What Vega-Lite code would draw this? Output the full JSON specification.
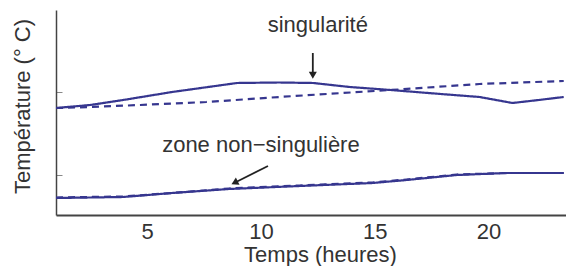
{
  "$schema": "https://vega.github.io/schema/vega-lite/v6.json",
  "width": 510,
  "height": 205,
  "autosize": {"type": "none"},
  "padding": {"left": 56, "top": 10, "right": 0, "bottom": 51},
  "background": "white",
  "config": {
    "view": {"stroke": null},
    "font": "Liberation Sans",
    "axis": {"grid": false, "titleFontWeight": "normal", "titleColor": "#333333", "labelColor": "#333333", "titleFont": "Liberation Sans", "labelFont": "Liberation Sans"}
  },
  "datasets": {
    "courbes": [
      {"t": 1.0, "temp": 107, "serie": "sing_obs", "trace": "observé"},
      {"t": 2.5, "temp": 110, "serie": "sing_obs", "trace": "observé"},
      {"t": 3.95, "temp": 115, "serie": "sing_obs", "trace": "observé"},
      {"t": 6.1, "temp": 123, "serie": "sing_obs", "trace": "observé"},
      {"t": 8.95, "temp": 132, "serie": "sing_obs", "trace": "observé"},
      {"t": 10.8, "temp": 132.5, "serie": "sing_obs", "trace": "observé"},
      {"t": 12.3, "temp": 132, "serie": "sing_obs", "trace": "observé"},
      {"t": 13.9, "temp": 128, "serie": "sing_obs", "trace": "observé"},
      {"t": 15.7, "temp": 125, "serie": "sing_obs", "trace": "observé"},
      {"t": 17.9, "temp": 121, "serie": "sing_obs", "trace": "observé"},
      {"t": 19.6, "temp": 118, "serie": "sing_obs", "trace": "observé"},
      {"t": 21.05, "temp": 112, "serie": "sing_obs", "trace": "observé"},
      {"t": 22.2, "temp": 115, "serie": "sing_obs", "trace": "observé"},
      {"t": 23.3, "temp": 118, "serie": "sing_obs", "trace": "observé"},
      {"t": 1.0, "temp": 107, "serie": "sing_mod", "trace": "modèle"},
      {"t": 2.5, "temp": 108, "serie": "sing_mod", "trace": "modèle"},
      {"t": 4.7, "temp": 110, "serie": "sing_mod", "trace": "modèle"},
      {"t": 7.6, "temp": 113, "serie": "sing_mod", "trace": "modèle"},
      {"t": 10.8, "temp": 118, "serie": "sing_mod", "trace": "modèle"},
      {"t": 15.7, "temp": 125, "serie": "sing_mod", "trace": "modèle"},
      {"t": 19.6, "temp": 131, "serie": "sing_mod", "trace": "modèle"},
      {"t": 23.3, "temp": 134, "serie": "sing_mod", "trace": "modèle"},
      {"t": 1.0, "temp": 17, "serie": "ns_obs", "trace": "observé"},
      {"t": 3.95, "temp": 18, "serie": "ns_obs", "trace": "observé"},
      {"t": 6.1, "temp": 22, "serie": "ns_obs", "trace": "observé"},
      {"t": 8.6, "temp": 26, "serie": "ns_obs", "trace": "observé"},
      {"t": 11.7, "temp": 29, "serie": "ns_obs", "trace": "observé"},
      {"t": 14.9, "temp": 32, "serie": "ns_obs", "trace": "observé"},
      {"t": 16.4, "temp": 35, "serie": "ns_obs", "trace": "observé"},
      {"t": 18.6, "temp": 40, "serie": "ns_obs", "trace": "observé"},
      {"t": 20.8, "temp": 42, "serie": "ns_obs", "trace": "observé"},
      {"t": 23.3, "temp": 42, "serie": "ns_obs", "trace": "observé"},
      {"t": 1.0, "temp": 17.5, "serie": "ns_mod", "trace": "modèle"},
      {"t": 3.95, "temp": 18.5, "serie": "ns_mod", "trace": "modèle"},
      {"t": 6.1, "temp": 22, "serie": "ns_mod", "trace": "modèle"},
      {"t": 8.6, "temp": 26.5, "serie": "ns_mod", "trace": "modèle"},
      {"t": 11.7, "temp": 29.5, "serie": "ns_mod", "trace": "modèle"},
      {"t": 14.9, "temp": 32.5, "serie": "ns_mod", "trace": "modèle"},
      {"t": 16.4, "temp": 35.5, "serie": "ns_mod", "trace": "modèle"},
      {"t": 18.6, "temp": 40.5, "serie": "ns_mod", "trace": "modèle"},
      {"t": 20.8, "temp": 42, "serie": "ns_mod", "trace": "modèle"},
      {"t": 23.3, "temp": 42, "serie": "ns_mod", "trace": "modèle"}
    ],
    "etiquettes": [
      {"t": 12.5, "temp": 183, "texte": "singularité"},
      {"t": 10.0, "temp": 63, "texte": "zone non−singulière"}
    ],
    "fleche_v": [
      {"t": 12.28, "temp": 162, "t2": 12.28, "temp2": 141}
    ],
    "fleche_d": [
      {"t": 10.31, "temp": 49, "t2": 8.89, "temp2": 32.8}
    ]
  },
  "layer": [
    {
      "data": {"name": "courbes"},
      "mark": {"type": "line", "strokeWidth": 2.2, "color": "#36368f", "clip": true},
      "encoding": {
        "x": {"field": "t", "type": "quantitative", "scale": {"domain": [1, 23.4], "nice": false, "zero": false},
          "axis": {"values": [5, 10, 15, 20], "ticks": false, "labelFontSize": 22, "labelPadding": 6, "domainColor": "#444444", "domainWidth": 2,
            "title": "Temps (heures)", "titleFontSize": 22, "titleX": 264, "titleY": 46, "titleBaseline": "alphabetic"}},
        "y": {"field": "temp", "type": "quantitative", "scale": {"domain": [0, 205], "nice": false},
          "axis": {"values": [40, 123], "labels": false, "tickSize": -6, "tickColor": "#888888", "domainColor": "#444444", "domainWidth": 1.5,
            "title": "Température (° C)", "titleFontSize": 22, "titleX": -27, "titleY": 96, "titleBaseline": "alphabetic", "titleAngle": -90}},
        "detail": {"field": "serie"},
        "strokeDash": {"field": "trace", "type": "nominal", "scale": {"domain": ["observé", "modèle"], "range": [[1, 0], [7, 5]]}, "legend": null}
      }
    },
    {
      "data": {"name": "etiquettes"},
      "mark": {"type": "text", "fontSize": 22, "color": "#333333", "align": "center", "baseline": "alphabetic", "font": "Liberation Sans"},
      "encoding": {
        "x": {"field": "t", "type": "quantitative"},
        "y": {"field": "temp", "type": "quantitative"},
        "text": {"field": "texte"}
      }
    },
    {
      "data": {"name": "fleche_v"},
      "mark": {"type": "rule", "strokeWidth": 1.8, "color": "#222222"},
      "encoding": {
        "x": {"field": "t", "type": "quantitative"},
        "y": {"field": "temp", "type": "quantitative"},
        "x2": {"field": "t2"},
        "y2": {"field": "temp2"}
      }
    },
    {
      "data": {"name": "fleche_v"},
      "mark": {"type": "point", "shape": "triangle", "angle": 180, "size": 65, "filled": true, "color": "#222222", "opacity": 1},
      "encoding": {
        "x": {"field": "t2", "type": "quantitative"},
        "y": {"field": "temp2", "type": "quantitative"}
      }
    },
    {
      "data": {"name": "fleche_d"},
      "mark": {"type": "rule", "strokeWidth": 1.8, "color": "#222222"},
      "encoding": {
        "x": {"field": "t", "type": "quantitative"},
        "y": {"field": "temp", "type": "quantitative"},
        "x2": {"field": "t2"},
        "y2": {"field": "temp2"}
      }
    },
    {
      "data": {"name": "fleche_d"},
      "mark": {"type": "point", "shape": "triangle", "angle": 243, "size": 65, "filled": true, "color": "#222222", "opacity": 1},
      "encoding": {
        "x": {"field": "t2", "type": "quantitative"},
        "y": {"field": "temp2", "type": "quantitative"}
      }
    }
  ]
}
